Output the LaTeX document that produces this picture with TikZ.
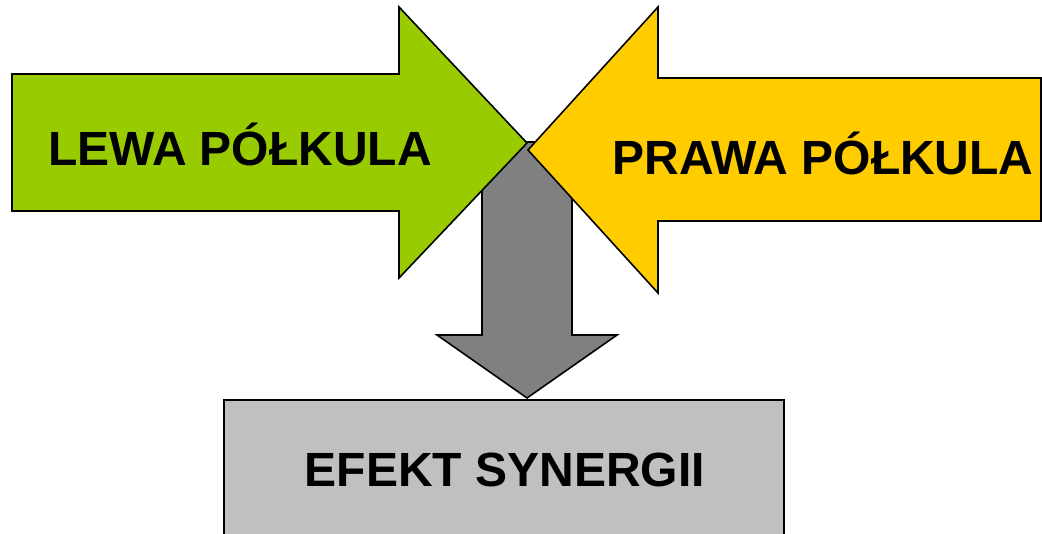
\documentclass[tikz,border=0pt]{standalone}
\usepackage{fontspec}
\setmainfont{Liberation Sans}
\definecolor{lgreen}{HTML}{99CC00}
\definecolor{lyellow}{HTML}{FFCC00}
\definecolor{dgray}{HTML}{808080}
\definecolor{lgray}{HTML}{C0C0C0}
\begin{document}
\begin{tikzpicture}[x=1pt,y=-1pt,
  shapeline/.style={draw=black,line width=1.6pt,line join=miter},
  label/.style={font=\fontsize{48}{56}\selectfont\bfseries,inner sep=0pt,anchor=center}]
\useasboundingbox (0,0) rectangle (1042,534);
% result box
\draw[shapeline,fill=lgray] (224,600) -- (224,400) -- (784,400) -- (784,600);
\node[label] (res) at (505,470) {EFEKT SYNERGII};
% gray down arrow
\draw[shapeline,fill=dgray] (482,142) -- (572,142) -- (572,335) -- (617,335) -- (527,398) -- (437,335) -- (482,335) -- cycle;
% green arrow
\draw[shapeline,fill=lgreen] (12,74) -- (399,74) -- (399,7) -- (527,143) -- (399,278) -- (399,211) -- (12,211) -- cycle;
\node[label] (left) at (240,144) {LEWA PÓŁKULA};
% yellow arrow
\draw[shapeline,fill=lyellow] (1041,78) -- (658,78) -- (658,7) -- (528,150) -- (658,293) -- (658,221) -- (1041,221) -- cycle;
\node[label] (right) at (823,153) {PRAWA PÓŁKULA};
\end{tikzpicture}
\end{document}
